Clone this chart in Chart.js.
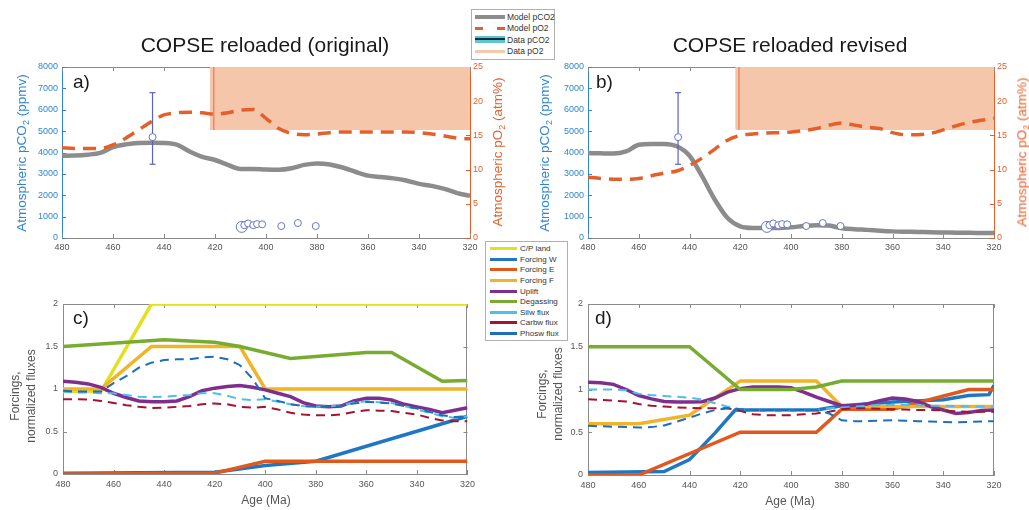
<!DOCTYPE html>
<html>
<head>
<meta charset="utf-8">
<title>COPSE reloaded</title>
<script src="https://cdn.jsdelivr.net/npm/chart.js@4.4.1/dist/chart.umd.min.js"></script>
<style>
  body { margin: 0; width: 1029px; height: 510px; overflow: hidden; position: relative; background: #fff;
         font-family: "Liberation Sans", Arial, sans-serif; }
  canvas { position: absolute; }
  .t { position: absolute; white-space: nowrap; line-height: 1; }
  .title { font-size: 21px; color: #1a1a1a; transform: translateX(-50%); }
  .tag { font-size: 19px; color: #1a1a1a; }
  .ylab { font-size: 13.5px; transform: translate(-50%, -50%) rotate(-90deg); }
  .ylab sub { font-size: 9px; vertical-align: -3px; line-height: 0; }
  .ylab2 { font-size: 12px; color: #555; line-height: 16px; text-align: center; transform: translate(-50%, -50%) rotate(-90deg); }
  .xlab { font-size: 12px; color: #555; transform: translateX(-50%); }
  .legend { position: absolute; background: #fff; border: 1px solid #b0b0b0; color: #333; box-sizing: border-box; }
  .legend div { display: flex; align-items: center; white-space: nowrap; }
  .legend i { display: inline-block; flex: none; }
</style>
</head>
<body>
<canvas id="panelA" width="530" height="210" style="left:0;top:55px"></canvas>
<canvas id="panelB" width="503" height="210" style="left:526px;top:55px"></canvas>
<canvas id="panelC" width="480" height="220" style="left:0;top:290px"></canvas>
<canvas id="panelD" width="503" height="220" style="left:526px;top:290px"></canvas>

<div class="t title" style="left:265px;top:34px">COPSE reloaded (original)</div>
<div class="t title" style="left:790px;top:34px">COPSE reloaded revised</div>

<div class="t tag" style="left:73px;top:72px">a)</div>
<div class="t tag" style="left:596px;top:72px">b)</div>
<div class="t tag" style="left:73px;top:308px">c)</div>
<div class="t tag" style="left:595px;top:308px">d)</div>

<div class="t ylab" style="left:22px;top:153px;color:#2f86cf">Atmospheric pCO<sub>2</sub> (ppmv)</div>
<div class="t ylab" style="left:498px;top:152px;color:#e4602a">Atmospheric pO<sub>2</sub> (atm%)</div>
<div class="t ylab" style="left:545px;top:153px;color:#2f86cf">Atmospheric pCO<sub>2</sub> (ppmv)</div>
<div class="t ylab" style="left:1022px;top:152px;color:#e4602a">Atmospheric pO<sub>2</sub> (atm%)</div>

<div class="t ylab2" style="left:23px;top:396px">Forcings,<br>normalized fluxes</div>
<div class="t ylab2" style="left:550px;top:394px">Forcings,<br>normalized fluxes</div>
<div class="t xlab" style="left:266px;top:494px">Age (Ma)</div>
<div class="t xlab" style="left:790px;top:495px">Age (Ma)</div>

<div class="legend" style="left:471px;top:9px;width:84px;height:51px;padding-top:1px;font-size:8.5px">
  <div style="height:11.5px"><i style="width:30px;height:3.5px;background:#8c8c8c;margin:0 2px 0 3px"></i>Model pCO2</div>
  <div style="height:11.5px"><i style="width:30px;height:3.5px;background:linear-gradient(90deg,#e4602a 0 8px,transparent 8px 22px,#e4602a 22px 30px);margin:0 2px 0 3px"></i>Model pO2</div>
  <div style="height:11.5px"><i style="width:30px;height:7px;background:linear-gradient(#5cc8cc 0 2.5px,#1d2a4a 2.5px 4.5px,#5cc8cc 4.5px 7px);margin:0 2px 0 3px"></i>Data pCO2</div>
  <div style="height:11.5px"><i style="width:30px;height:3px;background:#f6c9ae;margin:0 2px 0 3px"></i>Data pO2</div>
</div>
<div class="legend" id="fluxLegend" style="left:485px;top:241px;width:83px;height:100px;padding-top:1.4px;font-size:8px"></div>

<script>
Chart.defaults.font.family = '"Liberation Sans", Arial, sans-serif';

// model output sampled every 5 Ma
const ages = [480, 475, 470, 465, 460, 455, 450, 445, 440, 435, 430, 425, 420, 415, 410, 405, 400,
              395, 390, 385, 380, 375, 370, 365, 360, 355, 350, 345, 340, 335, 330, 325, 320];

// a) original run
const modelCO2A = [3850, 3860, 3900, 3980, 4250, 4380, 4450, 4460, 4450, 4370, 4050, 3800, 3650, 3420, 3230, 3230, 3200,
                   3190, 3260, 3420, 3490, 3440, 3300, 3100, 2920, 2850, 2790, 2690, 2530, 2440, 2300, 2100, 1970];
const modelO2A = [13.2, 13.1, 13.1, 13.1, 13.6, 14.6, 15.8, 17.0, 18.0, 18.3, 18.4, 18.3, 18.1, 18.3, 18.7, 18.8, 17.5,
                  16.0, 15.3, 15.1, 15.2, 15.4, 15.5, 15.5, 15.5, 15.5, 15.5, 15.5, 15.4, 15.2, 14.9, 14.6, 14.5];

// b) revised run
const modelCO2B = [3975, 3960, 3950, 4050, 4360, 4400, 4400, 4290, 3850, 2880, 1790, 935, 545, 470, 470, 470, 500,
                   560, 600, 580, 460, 410, 380, 340, 310, 295, 285, 270, 260, 250, 240, 235, 230];
const modelO2B = [8.9, 8.7, 8.6, 8.6, 8.7, 9.1, 9.5, 9.8, 10.6, 11.7, 13.0, 14.3, 15.0, 15.2, 15.35, 15.4, 15.5,
                  15.7, 16.0, 16.5, 16.8, 16.5, 16.2, 16.0, 15.4, 15.1, 15.1, 15.3, 15.8, 16.4, 16.9, 17.2, 17.5];

// proxy pCO2 data and pO2 window
const proxyAges = [444.5, 409.5, 408.5, 407, 405, 403.5, 401.5, 394, 387.5, 380.5];
const proxyCO2 = [4720, 520, 600, 680, 600, 650, 640, 560, 700, 560];
const errAge = 444.5, errLow = 3450, errHigh = 6800;
const bandAges = [422, 320];
const bandFloor = 15.8, bandCeil = 25;
const bandEdgeAge = 420.5;

// c) forcings and fluxes, original
const cpLandAgesC = [480, 465, 445, 320],            cpLandC = [0.97, 0.97, 2, 2];
const forcingWAgesC = [480, 420, 400, 380, 320],     forcingWC = [0.01, 0.02, 0.1, 0.15, 0.68];
const forcingEAgesC = [480, 420, 400, 320],          forcingEC = [0, 0.01, 0.15, 0.15];
const forcingFAgesC = [480, 465, 445, 410, 400, 320], forcingFC = [1, 1, 1.5, 1.5, 1, 1];
const degassAgesC = [480, 440, 420, 410, 390, 360, 350, 330, 320];
const degassC = [1.5, 1.58, 1.55, 1.5, 1.36, 1.43, 1.43, 1.09, 1.1];
const upliftC = [1.09, 1.08, 1.06, 1.02, 0.95, 0.9, 0.86, 0.85, 0.85, 0.86, 0.91, 0.98, 1.01, 1.03, 1.04, 1.02, 0.99,
                 0.95, 0.91, 0.84, 0.8, 0.79, 0.8, 0.86, 0.89, 0.89, 0.87, 0.82, 0.79, 0.76, 0.72, 0.75, 0.78];
const silwC = [0.97, 0.96, 0.96, 0.95, 0.95, 0.93, 0.91, 0.905, 0.91, 0.92, 0.93, 0.95, 0.95, 0.92, 0.88, 0.87, 0.88,
               0.85, 0.82, 0.8, 0.79, 0.795, 0.81, 0.84, 0.855, 0.845, 0.835, 0.8, 0.76, 0.72, 0.68, 0.66, 0.68];
const carbwC = [0.88, 0.88, 0.875, 0.86, 0.835, 0.81, 0.79, 0.776, 0.78, 0.79, 0.8, 0.82, 0.83, 0.82, 0.79, 0.78, 0.79,
                0.76, 0.72, 0.7, 0.69, 0.69, 0.7, 0.73, 0.75, 0.745, 0.74, 0.72, 0.7, 0.66, 0.63, 0.62, 0.62];
const phoswC = [0.98, 0.97, 0.97, 0.97, 1.07, 1.15, 1.25, 1.31, 1.34, 1.35, 1.35, 1.37, 1.38, 1.35, 1.28, 1.12, 0.89,
                0.86, 0.82, 0.8, 0.79, 0.79, 0.8, 0.83, 0.85, 0.84, 0.83, 0.8, 0.77, 0.73, 0.69, 0.67, 0.68];

// d) forcings and fluxes, revised
const forcingWAgesD = [480, 450, 440, 430, 422, 390, 380, 360, 340, 330, 322, 320];
const forcingWD = [0.03, 0.04, 0.18, 0.49, 0.76, 0.76, 0.81, 0.855, 0.88, 0.93, 0.94, 1.05];
const forcingEAgesD = [480, 460, 420, 390, 380, 360, 330, 320], forcingED = [0, 0, 0.5, 0.5, 0.77, 0.77, 1, 1];
const forcingFAgesD = [480, 460, 440, 420, 390, 380, 320],      forcingFD = [0.6, 0.6, 0.7, 1.1, 1.1, 0.8, 0.8];
const degassAgesD = [480, 440, 420, 400, 390, 380, 320],        degassD = [1.5, 1.5, 1, 1, 1.03, 1.1, 1.1];
const upliftD = [1.085, 1.08, 1.06, 1.0, 0.93, 0.89, 0.86, 0.855, 0.855, 0.857, 0.9, 0.97, 1.01, 1.03, 1.03, 1.03, 1.02,
                 0.97, 0.91, 0.86, 0.81, 0.81, 0.83, 0.87, 0.9, 0.89, 0.86, 0.8, 0.76, 0.72, 0.73, 0.755, 0.76];
const silwD = [1.0, 1.0, 1.0, 0.99, 0.95, 0.935, 0.925, 0.915, 0.905, 0.88, 0.84, 0.8, 0.77, 0.76, 0.75, 0.75, 0.75,
               0.75, 0.76, 0.78, 0.79, 0.8, 0.81, 0.82, 0.82, 0.82, 0.815, 0.81, 0.81, 0.805, 0.8, 0.8, 0.8];
const carbwD = [0.885, 0.88, 0.87, 0.86, 0.83, 0.81, 0.8, 0.79, 0.785, 0.78, 0.78, 0.78, 0.75, 0.71, 0.7, 0.7, 0.7,
                0.71, 0.72, 0.74, 0.77, 0.78, 0.78, 0.775, 0.77, 0.765, 0.76, 0.76, 0.755, 0.745, 0.74, 0.74, 0.74];
const phoswD = [0.575, 0.57, 0.565, 0.56, 0.555, 0.56, 0.58, 0.625, 0.67, 0.72, 0.76, 0.78, 0.77, 0.76, 0.76, 0.76, 0.76,
                0.76, 0.76, 0.72, 0.64, 0.63, 0.63, 0.635, 0.64, 0.635, 0.63, 0.625, 0.62, 0.615, 0.62, 0.625, 0.63];

const fluxNames = ['C/P land', 'Forcing W', 'Forcing E', 'Forcing F', 'Uplift', 'Degassing', 'Silw flux', 'Carbw flux', 'Phosw flux'];
const fluxColors = ['#e3e01e', '#1f77c4', '#e0581c', '#f0b429', '#7e2f8e', '#77ac30', '#4dbeee', '#a2142f', '#1f6fb8'];

const BLUE = '#2f86cf', ORANGE = '#e4602a', GREY = '#8a8a8a', INK = '#555';

const pts = (xs, ys) => xs.map((x, i) => ({ x: x, y: ys[i] }));

// axis box: top/right edges plus inward tick marks
const boxTicks = {
  id: 'boxTicks',
  beforeDatasetsDraw(chart, args, o) {
    const { ctx, chartArea: a, scales } = chart;
    const L = 4;
    const seg = (x1, y1, x2, y2, c) => {
      ctx.strokeStyle = c;
      ctx.beginPath(); ctx.moveTo(x1, y1); ctx.lineTo(x2, y2); ctx.stroke();
    };
    ctx.save();
    ctx.lineWidth = 1;
    const top = Math.round(a.top) + 0.5;
    const right = Math.round(a.right) - 0.5;
    seg(a.left, top, a.right, top, o.edge);
    if (!scales.y2) seg(right, a.top, right, a.bottom, o.edge);
    scales.x.ticks.forEach(t => {
      const px = Math.round(scales.x.getPixelForValue(t.value)) + 0.5;
      seg(px, a.bottom, px, a.bottom - L, o.edge);
      seg(px, a.top, px, a.top + L, o.edge);
    });
    scales.y.ticks.forEach(t => {
      const py = Math.round(scales.y.getPixelForValue(t.value)) + 0.5;
      seg(a.left, py, a.left + L, py, scales.y.options.border.color);
      if (!scales.y2) seg(a.right, py, a.right - L, py, o.edge);
    });
    if (scales.y2) {
      scales.y2.ticks.forEach(t => {
        const py = Math.round(scales.y2.getPixelForValue(t.value)) + 0.5;
        seg(a.right, py, a.right - L, py, scales.y2.options.border.color);
      });
    }
    ctx.restore();
  }
};

function ageAxis(height, pad) {
  return {
    type: 'linear', position: 'bottom', reverse: true, min: 320, max: 480,
    grid: { display: false, drawTicks: false },
    border: { color: GREY, width: 1 },
    ticks: { stepSize: 20, color: INK, font: { size: 9 }, padding: pad, maxRotation: 0, autoSkip: false, callback: v => String(v) },
    afterFit(s) { s.height = height; }
  };
}

function valueAxis(position, min, max, step, lineColor, labelColor, width, pad) {
  return {
    type: 'linear', position: position, min: min, max: max,
    grid: { display: false, drawTicks: false },
    border: { color: lineColor, width: 1 },
    ticks: { stepSize: step, color: labelColor, font: { size: 9 }, padding: pad, callback: v => String(v) },
    afterFit(s) { s.width = width; }
  };
}

function co2Panel(id, co2, o2, rightWidth) {
  new Chart(document.getElementById(id), {
    type: 'line',
    data: {
      datasets: [
        { data: pts(proxyAges, proxyCO2), yAxisID: 'y', showLine: false,
          pointRadius: c => (c.dataIndex === 1 ? 5.5 : 3.5),
          pointBorderColor: '#6a76c6', pointBackgroundColor: '#fff', pointBorderWidth: 1 },
        { data: pts([errAge, errAge], [errLow, errHigh]), yAxisID: 'y', borderColor: '#5a64bc', borderWidth: 1.2,
          pointStyle: 'line', pointRadius: 3, pointBorderColor: '#5a64bc', pointBorderWidth: 1.2 },
        { data: pts(ages, o2), yAxisID: 'y2', borderColor: ORANGE, borderWidth: 3.5, borderDash: [13, 8],
          pointRadius: 0, cubicInterpolationMode: 'monotone' },
        { data: pts(ages, co2), yAxisID: 'y', borderColor: '#8c8c8c', borderWidth: 4.5,
          pointRadius: 0, cubicInterpolationMode: 'monotone' },
        { data: pts([bandEdgeAge, bandEdgeAge], [bandFloor, bandCeil]), yAxisID: 'y2',
          borderColor: '#e88a5e', borderWidth: 1.5, pointRadius: 0 },
        { data: pts(bandAges, [bandFloor, bandFloor]), yAxisID: 'y2', fill: 'end',
          backgroundColor: '#f5c6a9', borderWidth: 0, pointRadius: 0 }
      ]
    },
    options: {
      responsive: false, animation: false, events: [],
      layout: { padding: { top: 12, right: 0, bottom: 0, left: 0 }, autoPadding: false },
      plugins: { legend: { display: false }, tooltip: { enabled: false }, boxTicks: { edge: GREY } },
      scales: {
        x: ageAxis(27, 4),
        y: valueAxis('left', 0, 8000, 1000, BLUE, BLUE, 62, 4),
        y2: valueAxis('right', 0, 25, 5, ORANGE, ORANGE, rightWidth, 3)
      }
    },
    plugins: [boxTicks]
  });
}

function fluxPanel(id, traces, padRight, yWidth, xHeight) {
  const datasets = [];
  traces.forEach((data, i) => {
    if (!data) return;
    const dashed = i >= 6;
    datasets.push({
      label: fluxNames[i], data: data, borderColor: fluxColors[i],
      borderWidth: dashed ? 2 : 3.5, borderDash: dashed ? [9, 6] : [],
      pointRadius: 0, fill: false, order: traces.length - i
    });
  });
  new Chart(document.getElementById(id), {
    type: 'line',
    data: { datasets: datasets },
    options: {
      responsive: false, animation: false, events: [],
      layout: { padding: { top: 14, right: padRight, bottom: 0, left: 0 }, autoPadding: false },
      plugins: { legend: { display: false }, tooltip: { enabled: false }, boxTicks: { edge: GREY } },
      scales: {
        x: ageAxis(xHeight, 5),
        y: valueAxis('left', 0, 2, 0.5, GREY, INK, yWidth, 5)
      }
    },
    plugins: [boxTicks]
  });
}

co2Panel('panelA', modelCO2A, modelO2A, 60);
co2Panel('panelB', modelCO2B, modelO2B, 35);

fluxPanel('panelC', [
  pts(cpLandAgesC, cpLandC), pts(forcingWAgesC, forcingWC), pts(forcingEAgesC, forcingEC),
  pts(forcingFAgesC, forcingFC), pts(ages, upliftC), pts(degassAgesC, degassC),
  pts(ages, silwC), pts(ages, carbwC), pts(ages, phoswC)
], 10, 63, 36);

fluxPanel('panelD', [
  null, pts(forcingWAgesD, forcingWD), pts(forcingEAgesD, forcingED),
  pts(forcingFAgesD, forcingFD), pts(ages, upliftD), pts(degassAgesD, degassD),
  pts(ages, silwD), pts(ages, carbwD), pts(ages, phoswD)
], 35, 62, 35);

// legend for the lower panels
const legendBox = document.getElementById('fluxLegend');
fluxNames.forEach((name, i) => {
  const row = document.createElement('div');
  row.style.height = '10.6px';
  row.innerHTML = `<i style="width:27px;height:3px;background:${fluxColors[i]};margin:0 3px 0 4px"></i>${name}`;
  legendBox.appendChild(row);
});
</script>
</body>
</html>
